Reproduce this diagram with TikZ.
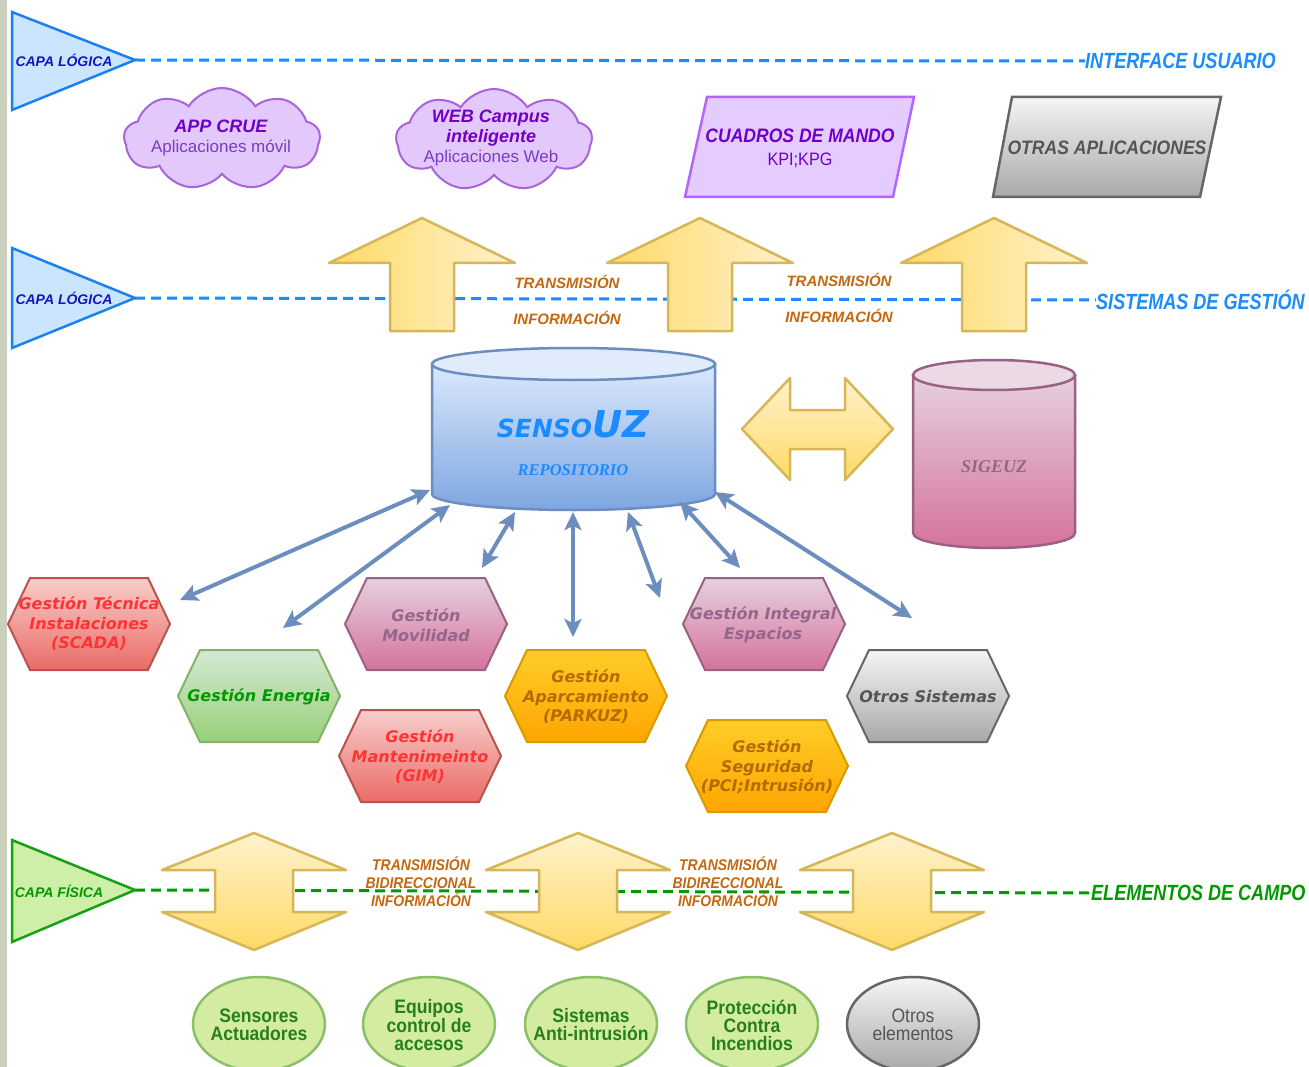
\documentclass[tikz,border=0pt]{standalone}
\usepackage{fontspec}
\usetikzlibrary{shapes.symbols,shapes.geometric,arrows.meta}
\newfontfamily\fAr{Liberation Sans}
\newfontfamily\fArN{Liberation Sans}[FakeStretch=0.9]
\newfontfamily\fArC{Liberation Sans}[FakeStretch=0.82]
\newfontfamily\fDV{DejaVu Sans}
\newfontfamily\fSe{Liberation Serif}
\definecolor{barC}{HTML}{CBD0BC}
\definecolor{triBF}{HTML}{CCE5FF}
\definecolor{triBS}{HTML}{1A82F0}
\definecolor{capaB}{HTML}{1414C0}
\definecolor{dashBC}{HTML}{1A8CFF}
\definecolor{triGF}{HTML}{CDEFA8}
\definecolor{triGS}{HTML}{16A016}
\definecolor{dashGC}{HTML}{009900}
\definecolor{yelL}{HTML}{FFF2CC}
\definecolor{yelD}{HTML}{FFD966}
\definecolor{yelS}{HTML}{D6B656}
\definecolor{transC}{HTML}{C4670F}
\definecolor{cloudF}{HTML}{E3C8FB}
\definecolor{cloudS}{HTML}{A864DC}
\definecolor{purT}{HTML}{7000C8}
\definecolor{purR}{HTML}{7A3CC4}
\definecolor{parF}{HTML}{E5CCFF}
\definecolor{parS}{HTML}{B266FF}
\definecolor{grT}{HTML}{F5F5F5}
\definecolor{grB}{HTML}{A8A8A8}
\definecolor{grS}{HTML}{666666}
\definecolor{grTx}{HTML}{555555}
\definecolor{bluT}{HTML}{DAE8FC}
\definecolor{bluB}{HTML}{7EA6E0}
\definecolor{bluS}{HTML}{6C8EBF}
\definecolor{pinT}{HTML}{E6D0DE}
\definecolor{pinB}{HTML}{D5739D}
\definecolor{pinS}{HTML}{996185}
\definecolor{pinTx}{HTML}{94668A}
\definecolor{redT}{HTML}{F8CECC}
\definecolor{redB}{HTML}{EA6B66}
\definecolor{redS}{HTML}{B85450}
\definecolor{redTx}{HTML}{FF3333}
\definecolor{grnT}{HTML}{D5E8D4}
\definecolor{grnB}{HTML}{97D077}
\definecolor{grnS}{HTML}{82B366}
\definecolor{grnTx}{HTML}{009900}
\definecolor{orT}{HTML}{FFCD28}
\definecolor{orB}{HTML}{FFA500}
\definecolor{orS}{HTML}{D79B00}
\definecolor{orTx}{HTML}{B36B00}
\definecolor{circF}{HTML}{D3ECA2}
\definecolor{circS}{HTML}{8CC068}
\definecolor{circTx}{HTML}{267F1A}
\newcommand\hexshape[3]{\draw[#1] (#2-81,#3) -- (#2-59,#3-46) -- (#2+59,#3-46) -- (#2+81,#3) -- (#2+59,#3+46) -- (#2-59,#3+46) -- cycle;}
\newcommand\uparr[1]{\draw[yarrowh] (#1,218) -- (#1+93,263) -- (#1+32,263) -- (#1+32,331) -- (#1-32,331) -- (#1-32,263) -- (#1-93,263) -- cycle;}
\newcommand\vdarr[1]{\draw[yarrowv] (#1,833) -- (#1+92,870) -- (#1+39,870) -- (#1+39,912) -- (#1+92,912) -- (#1,950) -- (#1-92,912) -- (#1-39,912) -- (#1-39,870) -- (#1-92,870) -- cycle;}
\begin{document}
\begin{tikzpicture}[x=1pt,y=-1pt,
  every node/.style={inner sep=0pt, align=center},
  capa/.style={font=\fAr\bfseries\itshape\fontsize{14}{16}\selectfont},
  layerlab/.style={font=\fArC\bfseries\itshape\fontsize{22}{24}\selectfont, anchor=west},
  tribl/.style={fill=triBF, draw=triBS, line width=2.5pt, line join=miter},
  trigr/.style={fill=triGF, draw=triGS, line width=2.5pt, line join=miter},
  dashb/.style={draw=dashBC, line width=3pt, dash pattern=on 10pt off 6pt},
  dashg/.style={draw=dashGC, line width=3pt, dash pattern=on 10pt off 6pt},
  yarrowh/.style={left color=yelD, right color=yelL, draw=yelS, line width=2.5pt, line join=round},
  yarrowv/.style={top color=yelL, bottom color=yelD, draw=yelS, line width=2.5pt, line join=round},
  transtop/.style={font=\fAr\bfseries\itshape\fontsize{15}{17}\selectfont, text=transC},
  transbot/.style={font=\fArN\bfseries\itshape\fontsize{15.5}{18}\selectfont, text=transC},
  cloudbox/.style={cloud, cloud puffs=9, cloud puff arc=115, aspect=1.9, fill=cloudF, draw=cloudS, line width=2pt, minimum width=196pt, minimum height=102pt},
  cloudtext/.style={text=purR, font=\fAr\fontsize{17}{20}\selectfont},
  hexbase/.style={line width=2pt, line join=miter},
  hexred/.style={hexbase, top color=redT, bottom color=redB, draw=redS},
  hexgrn/.style={hexbase, top color=grnT, bottom color=grnB, draw=grnS},
  hexpin/.style={hexbase, top color=pinT, bottom color=pinB, draw=pinS},
  hexor/.style={hexbase, top color=orT, bottom color=orB, draw=orS},
  hexgr/.style={hexbase, top color=grT, bottom color=grB, draw=grS},
  hextext/.style={font=\fDV\bfseries\itshape\fontsize{16}{19.5}\selectfont},
  conn/.style={draw=bluS, line width=4pt, {Stealth[length=18pt,width=17pt,inset=4pt]}-{Stealth[length=18pt,width=17pt,inset=4pt]}},
  circbox/.style={ellipse, minimum width=132pt, minimum height=94pt, fill=circF, draw=circS, line width=2.5pt},
  circgray/.style={ellipse, minimum width=132pt, minimum height=94pt, top color=grT, bottom color=grB, draw=grS, line width=2.5pt},
  circtext/.style={text=circTx, font=\fArN\bfseries\fontsize{19.5}{18}\selectfont},
  circgtext/.style={text=grTx, font=\fArN\fontsize{19.5}{18}\selectfont}
]
\fill[white] (0,0) rectangle (1309,1067);
\useasboundingbox (0,0) rectangle (1309,1067);
\fill[barC] (0,0) rectangle (7,1067);

% ---------- layer 1 ----------
\coordinate (t1) at (135,60);
\node[layerlab, text=dashBC] (iu) at (1085,61) {INTERFACE USUARIO};
\draw[dashb] (t1) -- (iu.west);
\draw[tribl] (12,12) -- (t1) -- (12,110) -- cycle;
\node[capa, text=capaB] (capa1) at (64,60) {CAPA LÓGICA};

% clouds
\node[cloudbox] (cl1) at (222,139) {};
\node[cloudtext] (cl1t) at (221,138) {{\bfseries\itshape\color{purT}\fontsize{18}{20}\selectfont APP CRUE}\\{Aplicaciones móvil}};
\node[cloudbox] (cl2) at (494,140) {};
\node[cloudtext] (cl2t) at (491,138) {{\bfseries\itshape\color{purT}\fontsize{18}{20}\selectfont WEB Campus}\\{\bfseries\itshape\color{purT}\fontsize{18}{20}\selectfont inteligente}\\{Aplicaciones Web}};

% parallelograms
\draw[fill=parF, draw=parS, line width=2.5pt] (707,97) -- (914,97) -- (893,197) -- (685,197) -- cycle;
\node[text=purT, font=\fArN\bfseries\itshape\fontsize{19.5}{22}\selectfont] (cuadros) at (800,136) {CUADROS DE MANDO};
\node[text=purT, font=\fArN\fontsize{18}{20}\selectfont] (kpi) at (800,160) {KPI;KPG};
\draw[top color=grT, bottom color=grB, draw=grS, line width=2.5pt] (1012,97) -- (1221,97) -- (1200,197) -- (993,197) -- cycle;
\node[text=grTx, font=\fArN\bfseries\itshape\fontsize{19.5}{22}\selectfont] (otrasap) at (1107,148) {OTRAS APLICACIONES};

% ---------- layer 2 ----------
\coordinate (t2) at (135,298);
\node[layerlab, text=dashBC] (sg) at (1096,300) {SISTEMAS DE GESTIÓN};
\draw[dashb] (t2) -- (sg.west);
\draw[tribl] (12,248) -- (t2) -- (12,348) -- cycle;
\node[capa, text=capaB] (capa2) at (64,298) {CAPA LÓGICA};
\uparr{422}
\uparr{700}
\uparr{994}
\node[transtop] (tr1) at (567,282) {TRANSMISIÓN};
\node[transtop] (in1) at (567,318) {INFORMACIÓN};
\node[transtop] (tr2) at (839,280) {TRANSMISIÓN};
\node[transtop] (in2) at (839,316) {INFORMACIÓN};

% SensoUZ cylinder
\draw[top color=bluT, bottom color=bluB, draw=bluS, line width=2.5pt] (432,364) -- (432,494) arc[start angle=180, end angle=0, x radius=141.5, y radius=16] -- (715,364) -- cycle;
\draw[fill=bluT!85!white, draw=bluS, line width=2.5pt] (573.5,364) ellipse [x radius=141.5, y radius=16];
\node[text=dashBC, font=\fDV\bfseries\itshape] (senso) at (573,424) {{\fontsize{25}{26}\selectfont SENSO}{\fontsize{37}{38}\selectfont UZ}};
\node[text=dashBC, font=\fSe\bfseries\itshape\fontsize{16.5}{18}\selectfont] (repo) at (573,470) {REPOSITORIO};

% horizontal double arrow
\draw[top color=yelL, bottom color=yelD, draw=yelS, line width=2.5pt, line join=round] (742,429) -- (790,378) -- (790,410) -- (845,410) -- (845,378) -- (893,429) -- (845,480) -- (845,449) -- (790,449) -- (790,480) -- cycle;

% SIGEUZ cylinder
\draw[top color=pinT, bottom color=pinB, draw=pinS, line width=2.5pt] (913,375) -- (913,533) arc[start angle=180, end angle=0, x radius=81, y radius=15] -- (1075,375) -- cycle;
\draw[fill=pinT!80!white, draw=pinS, line width=2.5pt] (994,375) ellipse [x radius=81, y radius=15];
\node[text=pinTx, font=\fSe\bfseries\itshape\fontsize{18}{20}\selectfont] (sigeuz) at (994,467) {SIGEUZ};

% ---------- hexagons ----------
\hexshape{hexred}{89}{624}
\node[hextext, text=redTx] (h1) at (89,624) {Gestión Técnica\\Instalaciones\\(SCADA)};
\hexshape{hexgrn}{259}{696}
\node[hextext, text=grnTx] (h2) at (259,697) {Gestión Energia};
\hexshape{hexpin}{426}{624}
\node[hextext, text=pinTx] (h3) at (426,625) {Gestión\\Movilidad};
\hexshape{hexred}{420}{756}
\node[hextext, text=redTx] (h4) at (420,757) {Gestión\\Mantenimeinto\\(GIM)};
\hexshape{hexor}{586}{696}
\node[hextext, text=orTx] (h5) at (586,697) {Gestión\\Aparcamiento\\(PARKUZ)};
\hexshape{hexpin}{764}{624}
\node[hextext, text=pinTx] (h6) at (763,625) {Gestión Integral\\Espacios};
\hexshape{hexor}{767}{766}
\node[hextext, text=orTx] (h7) at (767,767) {Gestión\\Seguridad\\(PCI;Intrusión)};
\hexshape{hexgr}{928}{696}
\node[hextext, text=grTx] (h8) at (928,697) {Otros Sistemas};

% connectors
\coordinate (s1) at (430,490); \coordinate (e1) at (180,600);
\coordinate (s2) at (450,505); \coordinate (e2) at (283,628);
\coordinate (s3) at (515,512); \coordinate (e3) at (482,568);
\coordinate (s4) at (573,512); \coordinate (e4) at (573,637);
\coordinate (s5) at (628,512); \coordinate (e5) at (660,598);
\coordinate (s6) at (680,502); \coordinate (e6) at (740,568);
\coordinate (s7) at (715,492); \coordinate (e7) at (912,618);
\foreach \i in {1,...,7} {\draw[conn] (s\i) -- (e\i);}

% ---------- physical layer ----------
\coordinate (t3) at (135,890);
\node[layerlab, text=dashGC] (ec) at (1091,893) {ELEMENTOS DE CAMPO};
\draw[dashg] (t3) -- (ec.west);
\draw[trigr] (12,840) -- (t3) -- (12,942) -- cycle;
\node[capa, text=dashGC] (capa3) at (59,891) {CAPA FÍSICA};
\vdarr{254}
\vdarr{578}
\vdarr{892}
\node[transbot] (bt1) at (421,882) {TRANSMISIÓN\\BIDIRECCIONAL\\INFORMACIÓN};
\node[transbot] (bt2) at (728,882) {TRANSMISIÓN\\BIDIRECCIONAL\\INFORMACIÓN};

% circles
\node[circbox] (c1) at (259,1024) {};
\node[circtext] (c1t) at (259,1025) {Sensores\\Actuadores};
\node[circbox] (c2) at (429,1024) {};
\node[circtext] (c2t) at (429,1025) {Equipos\\control de\\accesos};
\node[circbox] (c3) at (591,1024) {};
\node[circtext] (c3t) at (591,1025) {Sistemas\\Anti-intrusión};
\node[circbox] (c4) at (752,1024) {};
\node[circtext] (c4t) at (752,1025) {Protección\\Contra\\Incendios};
\node[circgray] (c5) at (913,1024) {};
\node[circgtext] (c5t) at (913,1025) {Otros\\elementos};
\end{tikzpicture}
\end{document}
